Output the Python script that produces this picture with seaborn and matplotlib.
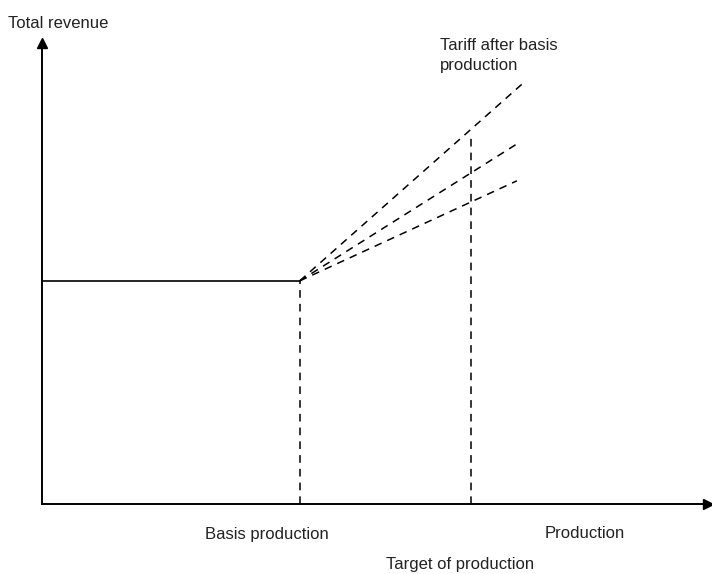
import pandas as pd
import seaborn as sns
import matplotlib.pyplot as plt

# conceptual diagram values (axis units run 0..100)
flat_x = [0.0, 38.7]
flat_revenue = [48.4, 48.4]

tariff_names = ["high", "mid", "low"]
tariff_end_x = [72.4, 71.3, 71.3]
tariff_end_revenue = [91.5, 78.1, 70.1]

marker_names = ["Basis production", "Target of production"]
marker_x = [38.7, 64.4]
marker_top = [48.4, 80.0]

W, H = 712, 574
FONT = ["Liberation Sans Narrow", "Liberation Sans", "DejaVu Sans"]


def fig_pos(px, py):
    """Pixel position (from top-left) -> figure fraction."""
    return px / W, 1 - py / H


sns.set_style("white")
plt.rcParams["font.family"] = FONT

fig = plt.figure(figsize=(W / 100, H / 100), dpi=100)
ax = fig.add_axes([42 / W, 70 / H, 666 / W, 461 / H])

# flat revenue up to basis production
sns.lineplot(x=flat_x, y=flat_revenue, ax=ax, color="black", linewidth=1.2)

# tariff lines fanning out after basis production
rows = []
for name, ex, ey in zip(tariff_names, tariff_end_x, tariff_end_revenue):
    rows.append({"tariff": name, "x": flat_x[1], "y": flat_revenue[1]})
    rows.append({"tariff": name, "x": ex, "y": ey})
tariffs = pd.DataFrame(rows)
sns.lineplot(data=tariffs, x="x", y="y", units="tariff", estimator=None,
             ax=ax, color="black", linewidth=1.1, linestyle=(0, (5, 4)))

# vertical dashed markers
rows = []
for name, mx, top in zip(marker_names, marker_x, marker_top):
    rows.append({"marker": name, "x": mx, "y": 0.0})
    rows.append({"marker": name, "x": mx, "y": top})
markers = pd.DataFrame(rows)
sns.lineplot(data=markers, x="x", y="y", units="marker", estimator=None,
             ax=ax, color="black", linewidth=1.1, linestyle=(0, (5, 4)))

ax.set_xlim(0, 100)
ax.set_ylim(0, 100)
ax.set_xticks([])
ax.set_yticks([])
ax.set_xlabel("")
ax.set_ylabel("")
sns.despine(ax=ax)
for side in ["left", "bottom"]:
    ax.spines[side].set_color("black")
    ax.spines[side].set_linewidth(1.4)

# arrow heads on the axes
ax.plot(1, 0, ">", color="black", markersize=7, transform=ax.get_yaxis_transform(), clip_on=False)
ax.plot(0, 1, "^", color="black", markersize=7, transform=ax.get_xaxis_transform(), clip_on=False)

text_kw = dict(fontsize=12, color="#222222")
fig.text(*fig_pos(8, 23), "Total revenue", ha="left", va="center", **text_kw)
fig.text(*fig_pos(440, 38), "Tariff after basis\nproduction", ha="left", va="top",
         linespacing=1.45, **text_kw)
fig.text(*fig_pos(267, 534), "Basis production", ha="center", va="center", **text_kw)
fig.text(*fig_pos(585, 534), "Production", ha="center", va="center", **text_kw)
fig.text(*fig_pos(460, 565), "Target of production", ha="center", va="center", **text_kw)

fig.savefig("out.png", dpi=100)
